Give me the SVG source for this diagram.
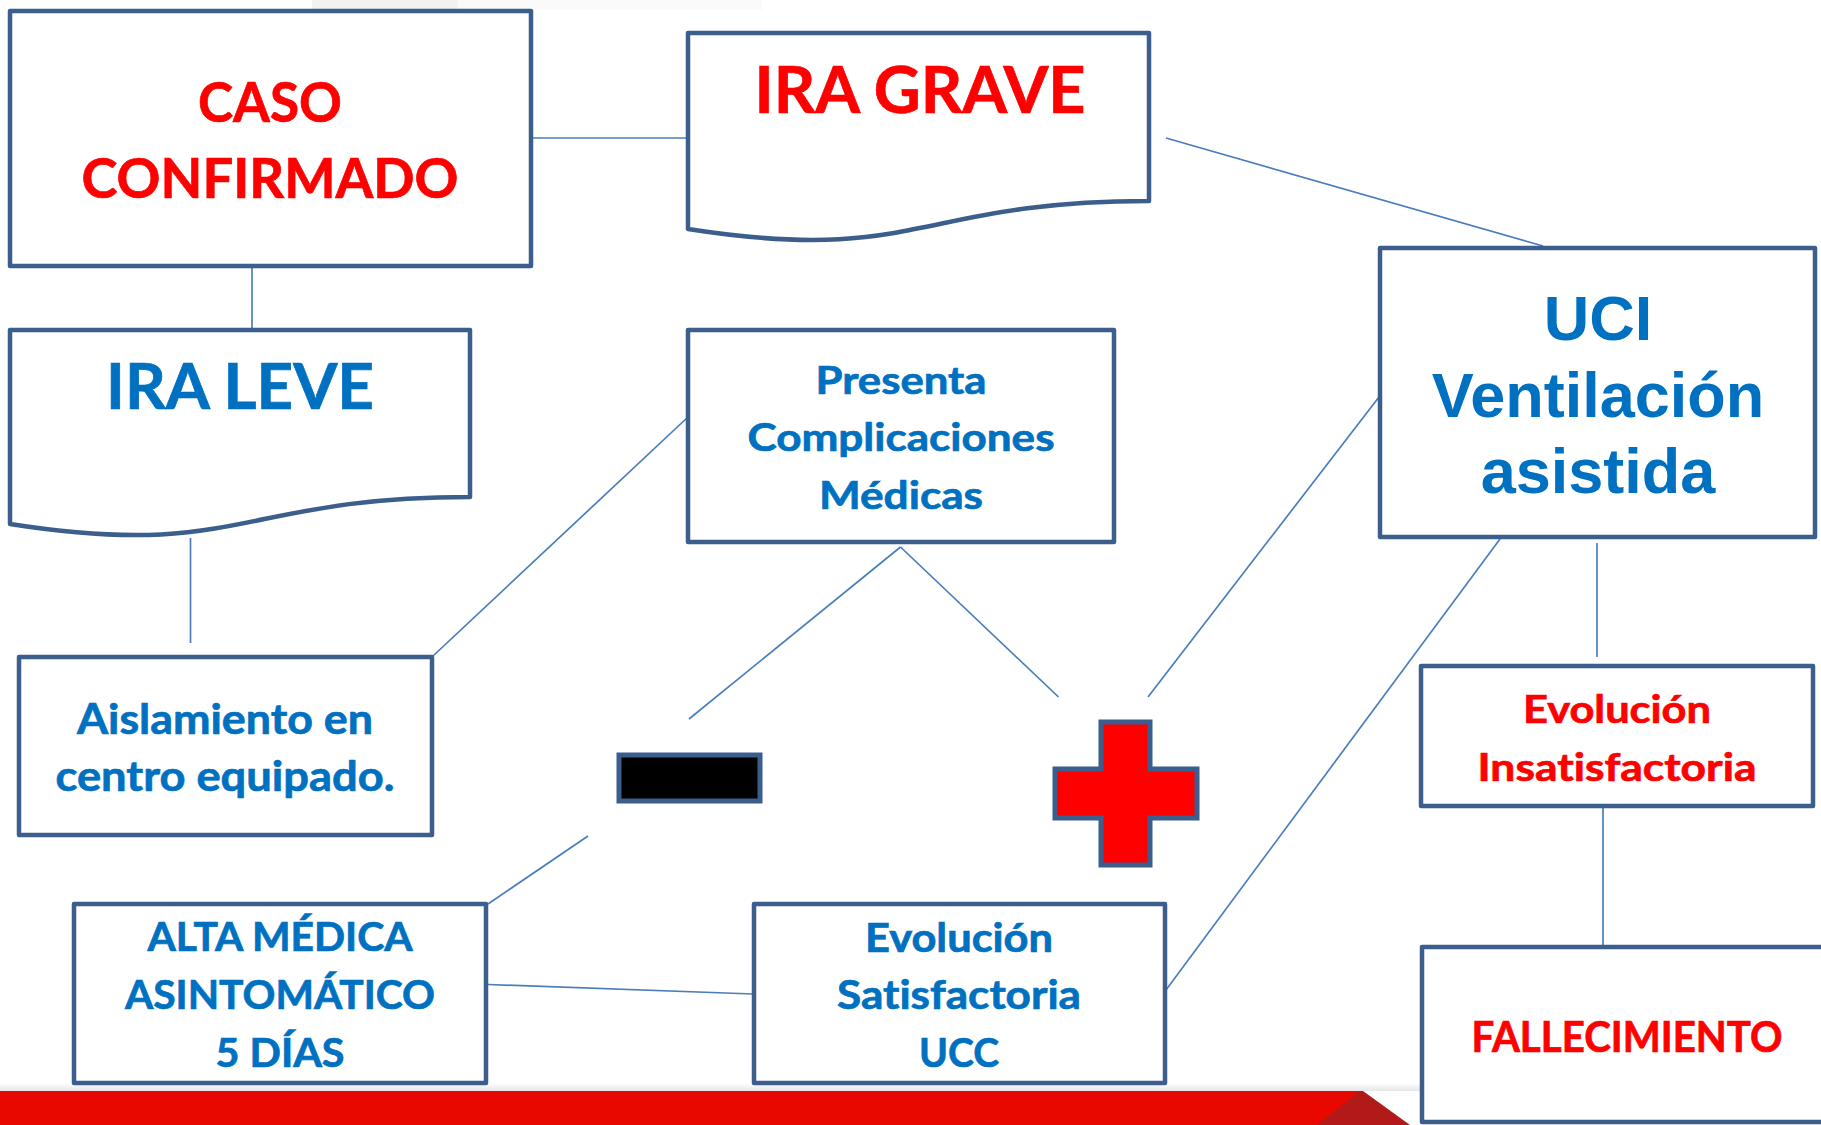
<svg xmlns="http://www.w3.org/2000/svg" width="1821" height="1125" viewBox="0 0 1821 1125">
<defs>
<style>
.box{fill:#fff;stroke:#3B5E8C;stroke-width:4.5;stroke-linejoin:round}
.sym{stroke:#3B5E8C;stroke-width:5}
.con line{stroke:#4A7EBB;stroke-width:1.7;fill:none}
.c{font-family:Lato,"Open Sans","Liberation Sans",sans-serif;font-weight:700;text-anchor:middle;stroke-width:0.7;font-variant-ligatures:none;font-feature-settings:"liga" 0,"dlig" 0}
.a{font-family:"Liberation Sans",Arial,sans-serif;font-weight:700;text-anchor:middle;fill:#0070C0}
.red{fill:#FF0000;stroke:#FF0000}
.blue{fill:#0070C0;stroke:#0070C0}
</style>
<linearGradient id="sh" x1="0" y1="0" x2="0" y2="1">
<stop offset="0" stop-color="#ffffff"/>
<stop offset="1" stop-color="#e6e6e6"/>
</linearGradient>
</defs>
<rect width="1821" height="1125" fill="#fff"/>
<rect x="312" y="0" width="146" height="10" fill="#F2F2F2"/>
<rect x="458" y="0" width="304" height="10" fill="#FAFAFA"/>

<g id="footer">
<rect x="0" y="1083" width="1420" height="8" fill="url(#sh)"/>
<rect x="0" y="1091" width="1363" height="34" fill="#E80800"/>
<polygon points="1317,1125 1360,1091 1363,1091 1410,1125" fill="#B21A1A"/>
</g>

<g id="connectors" class="con">
<line x1="531" y1="138" x2="688" y2="138"/>
<line x1="1166" y1="138" x2="1543" y2="246"/>
<line x1="252" y1="266" x2="252" y2="330"/>
<line x1="190.5" y1="538" x2="190.5" y2="643"/>
<line x1="433" y1="656" x2="688" y2="417"/>
<line x1="900.5" y1="547" x2="689" y2="719"/>
<line x1="900.5" y1="547" x2="1058.5" y2="697"/>
<line x1="1379" y1="397" x2="1148" y2="697"/>
<line x1="1500" y1="539" x2="1166" y2="990"/>
<line x1="1597" y1="543" x2="1597" y2="657"/>
<line x1="1603" y1="806" x2="1603" y2="947"/>
<line x1="588" y1="836" x2="488" y2="904"/>
<line x1="488" y1="984.5" x2="753" y2="994"/>
</g>

<g id="caso-confirmado">
<rect class="box" x="10" y="11" width="521" height="255"/>
<text class="c red" x="270" y="122" font-size="56" textLength="144" lengthAdjust="spacingAndGlyphs">CASO</text>
<text class="c red" x="270" y="198" font-size="56" textLength="377" lengthAdjust="spacingAndGlyphs">CONFIRMADO</text>
</g>

<g id="ira-grave">
<path class="box" d="M688,33 H1149 V201 C918,201 918,265 688,229 Z"/>
<text class="c red" x="920" y="113" font-size="65" textLength="331" lengthAdjust="spacingAndGlyphs">IRA GRAVE</text>
</g>

<g id="ira-leve">
<path class="box" d="M10,330 H470 V497 C240,497 240,560 10,524 Z"/>
<text class="c blue" x="240" y="409" font-size="64" textLength="268" lengthAdjust="spacingAndGlyphs">IRA LEVE</text>
</g>

<g id="presenta-complicaciones">
<rect class="box" x="688" y="330" width="426" height="212"/>
<text class="c blue" x="901" y="394" font-size="39" textLength="171" lengthAdjust="spacingAndGlyphs">Presenta</text>
<text class="c blue" x="901" y="451" font-size="39" textLength="307" lengthAdjust="spacingAndGlyphs">Complicaciones</text>
<text class="c blue" x="901" y="509" font-size="39" textLength="164" lengthAdjust="spacingAndGlyphs">Médicas</text>
</g>

<g id="uci">
<rect class="box" x="1380" y="248" width="435" height="289"/>
<text class="a" x="1598" y="340" font-size="63">UCI</text>
<text class="a" x="1598" y="417" font-size="63">Ventilación</text>
<text class="a" x="1598" y="493" font-size="63">asistida</text>
</g>

<g id="aislamiento">
<rect class="box" x="19" y="657" width="413" height="178"/>
<text class="c blue" x="225" y="734" font-size="42" textLength="296" lengthAdjust="spacingAndGlyphs">Aislamiento en</text>
<text class="c blue" x="225" y="791" font-size="42" textLength="339" lengthAdjust="spacingAndGlyphs">centro equipado.</text>
</g>

<g id="minus">
<rect class="sym" x="619" y="755" width="141" height="46" fill="#000"/>
</g>

<g id="plus">
<path class="sym" fill="#FF0000" d="M1101,722 H1150 V769 H1197 V818 H1150 V865 H1101 V818 H1055 V769 H1101 Z"/>
</g>

<g id="evolucion-insatisfactoria">
<rect class="box" x="1421" y="666" width="392" height="140"/>
<text class="c red" x="1617" y="723" font-size="39" textLength="188" lengthAdjust="spacingAndGlyphs">Evolución</text>
<text class="c red" x="1617" y="781" font-size="39" textLength="279" lengthAdjust="spacingAndGlyphs">Insatisfactoria</text>
</g>

<g id="alta-medica">
<rect class="box" x="74" y="904" width="412" height="179"/>
<text class="c blue" x="280" y="951" font-size="40" textLength="265" lengthAdjust="spacingAndGlyphs">ALTA MÉDICA</text>
<text class="c blue" x="280" y="1009" font-size="40" textLength="310" lengthAdjust="spacingAndGlyphs">ASINTOMÁTICO</text>
<text class="c blue" x="280" y="1067" font-size="40" textLength="129" lengthAdjust="spacingAndGlyphs">5 DÍAS</text>
</g>

<g id="evolucion-satisfactoria">
<rect class="box" x="754" y="904" width="411" height="179"/>
<text class="c blue" x="959" y="952" font-size="40" textLength="188" lengthAdjust="spacingAndGlyphs">Evolución</text>
<text class="c blue" x="959" y="1009" font-size="40" textLength="244" lengthAdjust="spacingAndGlyphs">Satisfactoria</text>
<text class="c blue" x="959" y="1067" font-size="40" textLength="80" lengthAdjust="spacingAndGlyphs">UCC</text>
</g>

<g id="fallecimiento">
<rect class="box" x="1422" y="947" width="420" height="175"/>
<text class="c red" x="1627" y="1052" font-size="42" textLength="311" lengthAdjust="spacingAndGlyphs">FALLECIMIENTO</text>
</g>
</svg>
